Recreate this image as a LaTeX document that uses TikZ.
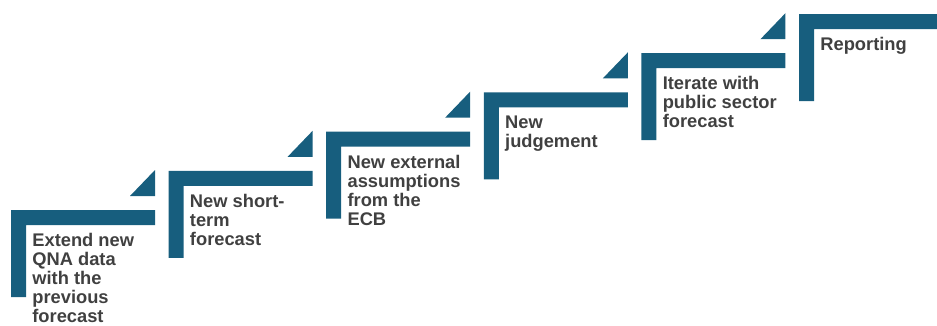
\documentclass[tikz,border=0pt]{standalone}
\usepackage{fontspec}
\setmainfont{Liberation Sans}
\definecolor{stepblue}{RGB}{23,94,126}
\definecolor{steptext}{RGB}{64,64,64}
\tikzset{every picture/.style={line width=0.75pt}}
\tikzset{
  stepbar/.style={fill=stepblue,draw=none},
  steplabel/.style={anchor=north west,align=left,inner sep=0pt,text=steptext,
    font=\fontsize{18.3}{19}\selectfont\bfseries},
}

\begin{document}
\begin{tikzpicture}[x=1pt,y=-1pt]
	\useasboundingbox (0,0) rectangle (937,325);
	\clip (0,0) rectangle (937,325);
	\foreach \i/\txt in {0/{Extend new\\QNA data\\with the\\previous\\forecast},
		1/{New short-\\term\\forecast},
		2/{New external\\assumptions\\from the\\ECB},
		3/{New\\judgement},
		4/{Iterate with\\public sector\\forecast},
		5/{Reporting}}{
		\pgfmathsetmacro{\xa}{11+157.6*\i}
		\pgfmathsetmacro{\ya}{210-39.2*\i}
		\fill[stepbar] (\xa,\ya) -- ++(144,0) -- ++(0,15) -- ++(-129,0) -- ++(0,72) -- ++(-15,0) -- cycle; %L字
		\ifnum\i<5
			\fill[stepbar] (\xa+144,\ya-40) -- (\xa+144,\ya-14) -- (\xa+119,\ya-14) -- cycle; %三角
		\fi
		\node[steplabel] (step\i) at (\xa+21,\ya+23) {\txt};
	}
\end{tikzpicture}
\end{document}
